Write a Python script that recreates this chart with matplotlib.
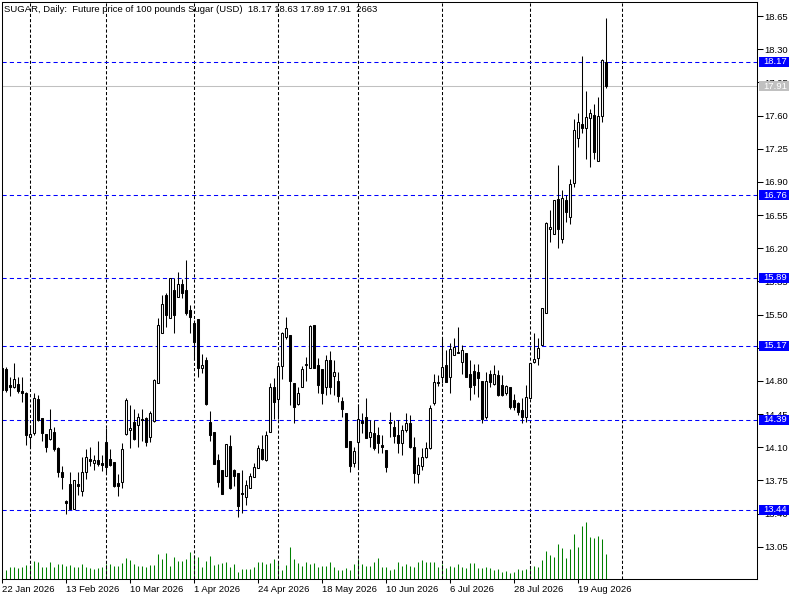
import matplotlib
matplotlib.use("Agg")
import matplotlib.pyplot as plt
from matplotlib.patches import Rectangle
from matplotlib.transforms import blended_transform_factory
import numpy as np

plt.rcParams['font.family'] = ['Liberation Sans', 'DejaVu Sans']
FS = 6.8

# ---------------- data ----------------
opens = [
14.94, 14.93, 14.76, 14.74, 14.77, 14.69, 14.67, 14.21, 14.25, 14.61,
14.41, 14.24, 14.19, 14.26, 14.09, 13.84, 13.53, 13.71, 13.45, 13.71,
13.64, 13.84, 13.98, 13.93, 13.97, 13.93, 14.16, 13.98, 13.94, 13.72,
13.73, 14.24, 14.28, 14.37, 14.33, 14.40, 14.41, 14.21, 14.38, 14.78,
15.31, 15.71, 15.46, 15.76, 15.68, 15.82, 15.76, 15.55, 15.41, 15.45,
14.94, 15.02, 14.37, 14.26, 13.96, 13.86, 13.80, 14.11, 13.86, 13.83,
13.62, 13.57, 13.67, 13.79, 13.88, 14.08, 13.97, 14.26, 14.74, 14.61,
14.96, 15.26, 15.28, 14.78, 14.56, 14.74, 14.97, 14.94, 15.39, 14.97,
14.92, 14.74, 15.02, 14.85, 14.80, 14.59, 14.46, 14.17, 13.93, 14.15,
14.38, 14.42, 14.21, 14.25, 14.23, 14.12, 14.07, 14.37, 14.31, 14.23,
14.14, 14.28, 14.36, 14.10, 13.82, 13.90, 14.00, 14.09, 14.57, 14.79,
14.84, 14.97, 14.84, 15.07, 15.10, 15.00, 15.09, 14.87, 14.90, 14.89,
14.80, 14.42, 14.87, 14.77, 14.86, 14.76, 14.67, 14.73, 14.60, 14.57,
14.49, 14.42, 14.62, 15.00, 15.04, 15.18, 15.52, 16.40, 16.35, 16.72,
16.30, 16.71, 16.53, 16.89, 17.36, 17.51, 17.47, 17.57, 17.61, 17.12,
17.60, 18.17]

highs = [
14.97, 14.95, 14.84, 14.99, 14.84, 14.84, 14.68, 14.33, 14.67, 14.65,
14.41, 14.24, 14.50, 14.31, 14.10, 13.90, 13.54, 13.84, 13.75, 13.84,
14.00, 14.08, 14.10, 14.02, 14.17, 14.02, 14.30, 14.08, 13.94, 13.82,
14.14, 14.62, 14.55, 14.50, 14.46, 14.50, 14.42, 14.48, 14.82, 15.46,
15.71, 15.73, 15.89, 15.89, 15.95, 15.88, 16.08, 15.60, 15.44, 15.45,
15.08, 15.05, 14.48, 14.26, 14.03, 13.86, 14.13, 14.23, 13.87, 13.83,
13.86, 13.75, 13.83, 13.93, 14.12, 14.23, 14.27, 14.78, 14.83, 15.00,
15.32, 15.47, 15.28, 14.78, 14.74, 14.96, 15.05, 15.39, 15.39, 15.04,
14.92, 15.07, 15.12, 15.02, 14.89, 14.63, 14.46, 14.17, 14.10, 14.56,
14.46, 14.62, 14.39, 14.39, 14.31, 14.23, 14.07, 14.47, 14.39, 14.39,
14.33, 14.46, 14.44, 14.21, 14.00, 14.09, 14.16, 14.55, 14.87, 14.86,
15.25, 15.13, 15.20, 15.25, 15.37, 15.18, 15.09, 15.02, 14.98, 14.98,
14.80, 14.89, 14.91, 14.97, 14.91, 14.86, 14.76, 14.73, 14.66, 14.58,
14.62, 14.76, 14.99, 15.31, 15.25, 15.57, 16.48, 16.60, 16.71, 17.08,
16.81, 16.76, 16.93, 17.56, 17.63, 18.23, 17.86, 17.67, 17.72, 17.80,
18.20, 18.63]

lows = [
14.68, 14.68, 14.64, 14.72, 14.67, 14.58, 14.12, 14.09, 14.23, 14.38,
14.17, 14.05, 14.18, 14.06, 13.79, 13.66, 13.39, 13.45, 13.45, 13.60,
13.58, 13.76, 13.90, 13.86, 13.90, 13.85, 13.83, 13.90, 13.68, 13.58,
13.67, 14.23, 14.09, 14.18, 14.10, 14.17, 14.11, 14.15, 14.37, 14.78,
15.31, 15.37, 15.46, 15.31, 15.68, 15.67, 15.50, 15.31, 15.02, 14.84,
14.88, 14.55, 14.17, 13.92, 13.68, 13.61, 13.80, 13.66, 13.69, 13.36,
13.41, 13.49, 13.67, 13.79, 13.88, 13.97, 13.95, 14.26, 14.40, 14.40,
14.82, 15.24, 14.55, 14.35, 14.55, 14.74, 14.80, 14.94, 14.94, 14.67,
14.56, 14.65, 14.66, 14.65, 14.58, 14.42, 14.10, 13.84, 13.89, 13.89,
14.25, 14.20, 14.10, 14.07, 14.04, 14.04, 13.84, 14.21, 14.14, 14.04,
14.02, 14.26, 14.09, 13.72, 13.72, 13.86, 13.99, 14.08, 14.55, 14.75,
14.78, 14.79, 14.67, 15.07, 15.09, 14.87, 14.84, 14.60, 14.66, 14.63,
14.35, 14.40, 14.73, 14.76, 14.64, 14.64, 14.65, 14.50, 14.49, 14.44,
14.36, 14.37, 14.62, 14.99, 14.97, 15.18, 15.52, 16.27, 16.35, 16.20,
16.26, 16.48, 16.46, 16.85, 17.27, 17.42, 17.14, 17.06, 17.14, 17.12,
17.53, 17.89]

closes = [
14.70, 14.70, 14.74, 14.82, 14.69, 14.67, 14.23, 14.24, 14.62, 14.39,
14.25, 14.10, 14.29, 14.08, 13.84, 13.79, 13.51, 13.45, 13.75, 13.69,
13.84, 14.00, 13.95, 13.97, 13.92, 13.91, 13.89, 13.91, 13.69, 13.69,
14.08, 14.60, 14.30, 14.19, 14.42, 14.39, 14.15, 14.46, 14.81, 15.39,
15.61, 15.50, 15.89, 15.50, 15.82, 15.73, 15.52, 15.47, 15.21, 14.94,
14.97, 14.56, 14.23, 13.92, 13.73, 13.61, 14.13, 13.67, 13.80, 13.48,
13.61, 13.70, 13.80, 13.89, 14.09, 13.98, 14.23, 14.74, 14.58, 14.96,
15.30, 15.36, 14.80, 14.52, 14.67, 14.93, 14.98, 15.38, 14.94, 14.76,
14.67, 15.02, 14.74, 14.89, 14.64, 14.50, 14.10, 13.90, 14.06, 14.40,
14.36, 14.20, 14.26, 14.09, 14.14, 14.10, 13.89, 14.35, 14.22, 14.14,
14.28, 14.36, 14.10, 13.83, 13.91, 14.00, 14.09, 14.51, 14.79, 14.78,
14.95, 14.79, 15.14, 15.16, 15.09, 15.13, 14.84, 14.73, 14.76, 14.83,
14.40, 14.80, 14.79, 14.87, 14.65, 14.65, 14.75, 14.52, 14.52, 14.47,
14.42, 14.63, 14.99, 15.03, 15.15, 15.57, 16.47, 16.42, 16.71, 16.40,
16.73, 16.58, 16.88, 17.45, 17.53, 17.47, 17.58, 17.63, 17.21, 17.60,
18.19, 17.91]

volumes = [
960, 960, 1250, 1250, 1170, 1250, 1460, 1460, 1920, 1780,
1250, 1250, 1780, 1310, 1600, 1600, 1380, 1460, 1250, 1250,
1630, 1250, 1140, 1070, 1170, 1250, 1600, 1600, 1380, 1380,
1670, 2200, 2020, 1600, 1380, 1380, 1250, 1490, 1490, 2660,
2130, 2740, 1380, 2340, 1920, 1920, 2100, 2880, 2520, 2340,
1250, 1920, 2450, 1460, 1600, 1670, 1780, 1250, 1600, 750,
1070, 1070, 1070, 1250, 1810, 1810, 1600, 1670, 2130, 1670,
960, 1490, 3410, 2100, 1670, 1380, 1780, 1600, 1670, 1310,
1350, 1350, 1780, 1250, 960, 960, 1140, 960, 1570, 2100,
1570, 1380, 1380, 1780, 2240, 1250, 1250, 960, 1030, 1780,
1380, 1570, 1420, 1250, 1780, 2020, 1780, 1840, 1840, 1250,
1570, 1140, 1420, 1310, 1570, 1250, 1140, 1670, 1670, 1140,
1140, 1250, 1140, 960, 1030, 780, 880, 670, 780, 1030,
960, 1070, 1420, 1380, 1250, 2020, 2980, 2560, 2370, 3730,
3330, 2270, 3160, 4790, 3440, 5640, 6070, 4440, 4330, 4580,
4260, 2663]

date_labels = ["22 Jan 2026", "13 Feb 2026", "10 Mar 2026", "1 Apr 2026",
               "24 Apr 2026", "18 May 2026", "10 Jun 2026", "6 Jul 2026",
               "28 Jul 2026", "19 Aug 2026"]
label_every = 16
month_start_bars = [7, 26, 48, 69, 89, 110, 132, 155]

price_ticks = [13.05, 13.40, 13.75, 14.10, 14.45, 14.80, 15.15, 15.50,
               15.85, 16.20, 16.55, 16.90, 17.25, 17.60, 17.95, 18.30, 18.65]
levels = [18.17, 16.76, 15.89, 15.17, 14.39, 13.44]
last_price = 17.91
title = "SUGAR, Daily:  Future price of 100 pounds Sugar (USD)  18.17 18.63 17.89 17.91  2663"

# ---------------- layout ----------------
W, H = 800, 600
L, R, T, B = 2, 757, 2, 579
XMIN, XMAX = -0.075, 188.675
YMIN, YMAX = 12.709, 18.798
VMAX = 61450

fig = plt.figure(figsize=(8, 6), dpi=100)
fig.patch.set_facecolor('white')
pos = [L / W, 1 - B / H, (R - L) / W, (B - T) / H]

axv = fig.add_axes(pos)
axv.set_xlim(XMIN, XMAX)
axv.set_ylim(0, VMAX)
axv.axis('off')

ax = fig.add_axes(pos)
ax.set_zorder(2)
ax.patch.set_alpha(0)
ax.set_xlim(XMIN, XMAX)
ax.set_ylim(YMIN, YMAX)

n = min(len(opens), len(highs), len(lows), len(closes), len(volumes))
x = np.arange(n)
o = np.array(opens[:n]); h = np.array(highs[:n]); l = np.array(lows[:n]); c = np.array(closes[:n])
v = np.array(volumes[:n])

# volumes
axv.vlines(x, 0, v, color='#008000', lw=0.75)

# grid (month starts)
for b in month_start_bars:
    ax.axvline(b, color='black', lw=0.75, ls=(0, (3, 2)), zorder=1)

# level lines
for lv in levels:
    ax.axhline(lv, color='#0000FF', lw=0.75, ls=(0, (4, 3)), zorder=1.5)
ax.axhline(last_price, color='#C0C0C0', lw=0.75, zorder=1.5)

# candles
ax.vlines(x, l, h, color='black', lw=0.75, zorder=3)
bottoms = np.minimum(o, c)
heights = np.abs(c - o)
faces = ['white' if cc >= oo else 'black' for oo, cc in zip(o, c)]
ax.bar(x, heights, bottom=bottoms, width=0.5, color=faces,
       edgecolor='black', linewidth=0.75, zorder=4)

# axes styling
for s in ax.spines.values():
    s.set_color('black')
    s.set_linewidth(0.75)
ax.yaxis.tick_right()
ax.set_yticks(price_ticks)
ax.set_yticklabels([f"{t:.2f}" for t in price_ticks])
ax.tick_params(axis='y', direction='out', length=4, width=0.75, pad=1.5,
               labelsize=FS, colors='black')
xt = [i * label_every for i in range(len(date_labels))]
ax.set_xticks(xt)
ax.set_xticklabels(date_labels)
for lbl in ax.get_xticklabels():
    lbl.set_ha('left')
ax.tick_params(axis='x', direction='out', length=3, width=0.75, pad=1.5,
               labelsize=FS, colors='black')

# price label boxes
ppu = (B - T) / (YMAX - YMIN)
tr = blended_transform_factory(ax.transAxes, ax.transData)
bx = (759 - L) / (R - L)
bw = 30 / (R - L)
tx = (763 - L) / (R - L)
bh = 10 / ppu
for lv, col in [(lv, '#0000FF') for lv in levels] + [(last_price, '#C0C0C0')]:
    ax.add_patch(Rectangle((bx, lv - bh / 2), bw, bh, transform=tr,
                           facecolor=col, edgecolor='none', clip_on=False, zorder=6))
    ax.text(tx, lv, f"{lv:.2f}", transform=tr, color='white', fontsize=FS,
            ha='left', va='center', clip_on=False, zorder=7)

# title
ax.text((4 - L) / (R - L), 1 - (9 - T) / (B - T), title, transform=ax.transAxes,
        fontsize=FS, ha='left', va='center', color='black', zorder=8)

fig.savefig('out.png', dpi=100, facecolor='white')
